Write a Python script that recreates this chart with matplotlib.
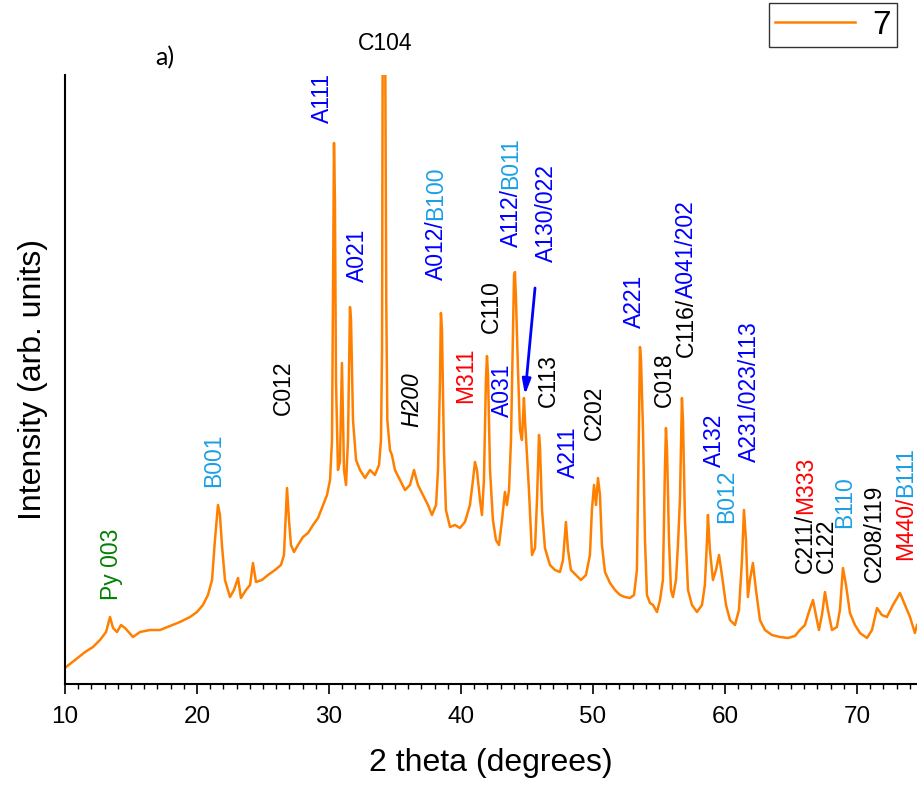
import matplotlib
matplotlib.use("Agg")
import matplotlib.pyplot as plt
from matplotlib.ticker import MultipleLocator, NullLocator

# ---------------- data ----------------
two_theta = [
    10.08, 10.76, 11.52, 12.12, 12.65, 13.11, 13.41, 13.64, 13.94, 14.24, 14.55, 15.15, 15.68,
    16.44, 17.20, 17.95, 18.71, 19.47, 20.00, 20.45, 20.83, 21.14, 21.36, 21.59, 21.74, 21.89,
    22.12, 22.50, 22.80, 23.11, 23.33, 23.71, 24.02, 24.24, 24.47, 24.92, 25.38, 25.91, 26.36,
    26.59, 26.82, 26.97, 27.12, 27.35, 27.65, 28.03, 28.41, 28.79, 29.17, 29.55, 29.85, 30.08,
    30.23, 30.30, 30.38, 30.45, 30.53, 30.68, 30.83, 30.98, 31.14, 31.29, 31.44, 31.59, 31.67,
    31.82, 32.05, 32.35, 32.73, 33.11, 33.48, 33.79, 33.94, 34.02, 34.08, 34.16, 34.24, 34.34,
    34.42, 34.62, 34.77, 35.00, 35.38, 35.76, 36.14, 36.44, 36.74, 37.12, 37.50, 37.80, 38.11,
    38.26, 38.41, 38.48, 38.56, 38.71, 38.86, 39.17, 39.55, 39.92, 40.30, 40.68, 40.91, 41.06,
    41.21, 41.44, 41.59, 41.74, 41.89, 41.97, 42.05, 42.20, 42.42, 42.65, 42.88, 43.11, 43.33,
    43.48, 43.64, 43.79, 43.94, 44.02, 44.09, 44.17, 44.32, 44.47, 44.62, 44.77, 44.85, 45.00,
    45.15, 45.38, 45.61, 45.76, 45.91, 45.98, 46.14, 46.36, 46.74, 47.12, 47.50, 47.73, 47.95,
    48.11, 48.33, 48.71, 49.09, 49.47, 49.77, 49.92, 50.08, 50.23, 50.38, 50.53, 50.68, 50.91,
    51.29, 51.67, 52.05, 52.42, 52.80, 53.11, 53.33, 53.48, 53.56, 53.64, 53.79, 53.94, 54.09,
    54.32, 54.55, 54.85, 55.08, 55.30, 55.45, 55.53, 55.61, 55.76, 55.91, 56.06, 56.29, 56.44,
    56.59, 56.74, 56.82, 56.97, 57.20, 57.50, 57.88, 58.26, 58.48, 58.64, 58.71, 58.86, 59.09,
    59.32, 59.55, 59.77, 60.08, 60.38, 60.76, 61.06, 61.29, 61.44, 61.59, 61.74, 61.89, 62.12,
    62.35, 62.65, 63.03, 63.56, 64.17, 64.77, 65.30, 65.68, 66.06, 66.36, 66.67, 66.89, 67.12,
    67.35, 67.58, 67.80, 68.11, 68.48, 68.71, 68.94, 69.17, 69.47, 69.85, 70.23, 70.76, 71.14,
    71.52, 71.89, 72.27, 72.73, 73.26, 73.64, 74.02, 74.39, 74.55,
]
intensity = [
    17, 24, 32, 37, 44, 52, 67, 56, 52, 59, 56, 47, 52,
    54, 54, 58, 62, 67, 72, 79, 89, 104, 144, 179, 169, 139,
    104, 87, 94, 106, 86, 94, 99, 121, 102, 104, 109, 114, 119,
    129, 196, 164, 139, 132, 139, 147, 151, 159, 166, 179, 189, 204,
    244, 384, 541, 484, 304, 214, 222, 321, 214, 199, 244, 377, 364,
    264, 224, 214, 206, 214, 209, 219, 244, 334, 700, 630, 700, 384,
    264, 234, 229, 214, 204, 194, 199, 214, 199, 189, 179, 169, 179,
    214, 304, 371, 354, 234, 174, 157, 159, 156, 162, 179, 204, 222,
    214, 184, 169, 204, 304, 328, 309, 214, 164, 144, 139, 164, 192,
    179, 194, 244, 354, 409, 412, 384, 314, 254, 244, 286, 264, 229,
    194, 129, 136, 184, 249, 239, 174, 136, 119, 114, 112, 124, 162,
    134, 114, 109, 104, 109, 129, 174, 199, 179, 206, 189, 139, 112,
    101, 94, 89, 87, 86, 89, 114, 254, 337, 324, 254, 144, 89,
    81, 79, 72, 84, 104, 214, 256, 234, 144, 94, 87, 104, 139,
    184, 286, 264, 164, 94, 79, 72, 79, 99, 144, 169, 134, 104,
    114, 129, 109, 79, 64, 59, 74, 124, 174, 144, 87, 104, 121,
    94, 64, 54, 49, 47, 46, 48, 54, 59, 72, 84, 69, 54,
    69, 92, 74, 54, 57, 74, 116, 99, 71, 59, 51, 46, 54,
    76, 69, 67, 79, 91, 79, 67, 51, 59,
]
series_name = "7"
x_ticks = [10, 20, 30, 40, 50, 60, 70]

# peak labels: list of (text part, colour) pieces
BLUE, LBLUE, RED, GREEN, BLACK = "#0000FF", "#1AA0E6", "#FF0000", "#008000", "#000000"
peak_labels = [
    [("Py 003", GREEN)],
    [("B001", LBLUE)],
    [("C012", BLACK)],
    [("A111", BLUE)],
    [("A021", BLUE)],
    [("H200", BLACK)],
    [("A012/", BLUE), ("B100", LBLUE)],
    [("M311", RED)],
    [("C110", BLACK)],
    [("A031", BLUE)],
    [("A112/", BLUE), ("B011", LBLUE)],
    [("A130/022", BLUE)],
    [("C113", BLACK)],
    [("A211", BLUE)],
    [("C202", BLACK)],
    [("A221", BLUE)],
    [("C018", BLACK)],
    [("C116/", BLACK), ("A041/202", BLUE)],
    [("A132", BLUE)],
    [("B012", LBLUE)],
    [("A231/023/113", BLUE)],
    [("C211/", BLACK), ("M333", RED)],
    [("C122", BLACK)],
    [("B110", LBLUE)],
    [("C208/119", BLACK)],
    [("M440/", RED), ("B111", LBLUE)],
]
# label anchor (x centre in 2theta, bottom in intensity units)
label_pos = [
    (13.56, 84), (21.29, 197), (26.52, 269), (29.47, 561), (32.12, 402), (36.29, 257),
    (38.11, 404), (40.38, 281), (42.27, 351), (43.18, 267), (43.79, 437), (46.44, 422),
    (46.59, 277), (48.18, 206), (50.08, 244), (53.11, 356), (55.38, 277), (57.05, 327),
    (59.17, 217), (60.15, 161), (61.82, 222), (66.10, 111), (67.68, 111), (69.09, 156),
    (71.29, 102), (73.71, 124),
]

# ---------------- figure ----------------
plt.rcParams["font.family"] = ["Liberation Sans", "DejaVu Sans"]
W, H = 917, 789
fig = plt.figure(figsize=(W / 100, H / 100), dpi=100)
ax = fig.add_axes([65 / W, (H - 684) / H, (W - 65) / W, (684 - 75) / H])

ax.plot(two_theta, intensity, color="#FF8000", lw=1.8, label=series_name)

ax.set_xlim(10, 74.55)
ax.set_ylim(0, 609)
for s in ("top", "right"):
    ax.spines[s].set_visible(False)
for s in ("left", "bottom"):
    ax.spines[s].set_linewidth(1.5)
ax.yaxis.set_major_locator(NullLocator())
ax.set_xticks(x_ticks)
ax.xaxis.set_minor_locator(MultipleLocator(1))
ax.tick_params(axis="x", which="major", direction="out", length=7, width=1.2,
               labelsize=17.5, pad=9)
ax.tick_params(axis="x", which="minor", direction="out", length=3.6, width=1.0)

ax.set_xlabel("2 theta (degrees)", fontsize=23, labelpad=14)
ax.set_ylabel("Intensity (arb. units)", fontsize=23, labelpad=12)

FS = 16.5
for parts, (lx, ly) in zip(peak_labels, label_pos):
    style = "italic" if parts[0][0] == "H200" else "normal"
    txt, col = parts[0]
    t = ax.text(lx, ly, txt, color=col, rotation=90, ha="center", va="bottom",
                fontsize=FS, style=style)
    for txt, col in parts[1:]:
        t = ax.annotate(txt, xy=(0.5, 1.0), xycoords=t, color=col, rotation=90,
                        ha="center", va="bottom", fontsize=FS)

ax.text(34.24, 640, "C104", ha="center", va="center", fontsize=16.5, clip_on=False)
fig.text(165 / W, 1 - 58 / H, "a)", ha="center", va="center", fontsize=18,
         family=["Lato", "DejaVu Sans"])

ax.annotate("", xy=(44.85, 289), xytext=(45.61, 396),
            arrowprops=dict(arrowstyle="-|>,head_length=0.9,head_width=0.25",
                            color=BLUE, lw=2, shrinkA=0, shrinkB=0))

leg = ax.legend(loc="upper right", bbox_to_anchor=(897 / W, 1 - 3 / H),
                bbox_transform=fig.transFigure, fontsize=24, frameon=True,
                fancybox=False, handlelength=2.4, handletextpad=0.5,
                borderpad=0.2, borderaxespad=0)
leg.get_frame().set_edgecolor("black")
leg.get_frame().set_linewidth(1.0)

fig.savefig("out.png", dpi=100)
